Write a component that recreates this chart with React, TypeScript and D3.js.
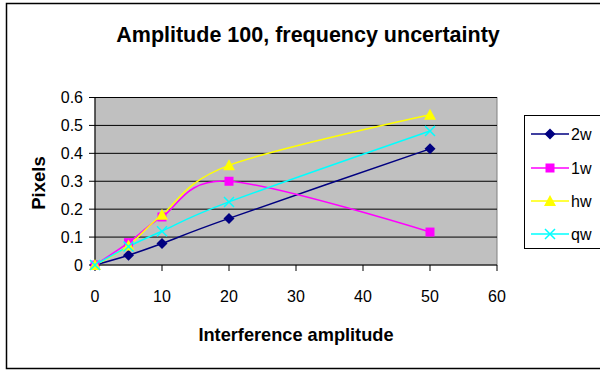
import React from "react";
import * as d3 from "d3";

const xValues = [0, 5, 10, 20, 50];
const series2w = [0, 0.035, 0.077, 0.167, 0.416];
const series1w = [0, 0.08, 0.172, 0.3, 0.118];
const serieshw = [0, 0.07, 0.18, 0.357, 0.538];
const seriesqw = [0, 0.066, 0.121, 0.226, 0.48];
const seriesNames = ["2w", "1w", "hw", "qw"];
const seriesColors = ["#000080", "#FF00FF", "#FFFF00", "#00FFFF"];
const xTicks = [0, 10, 20, 30, 40, 50, 60];
const yTicks = [0, 0.1, 0.2, 0.3, 0.4, 0.5, 0.6];
const title = "Amplitude 100, frequency uncertainty";
const xTitle = "Interference amplitude";
const yTitle = "Pixels";

const W = 600, H = 370;
const font = "'Liberation Sans', Arial, sans-serif";

function Marker({ type, x, y, color }: { type: number; x: number; y: number; color: string }) {
  if (type === 0) {
    const r = 5.5;
    return <path d={`M${x},${y - r}L${x + r},${y}L${x},${y + r}L${x - r},${y}Z`} fill={color} />;
  }
  if (type === 1) {
    return <rect x={x - 4.5} y={y - 4.5} width={9} height={9} fill={color} />;
  }
  if (type === 2) {
    return <path d={`M${x},${y - 6}L${x + 6},${y + 5}L${x - 6},${y + 5}Z`} fill={color} />;
  }
  return (
    <path d={`M${x - 5},${y - 5}L${x + 5},${y + 5}M${x + 5},${y - 5}L${x - 5},${y + 5}`} stroke={color} strokeWidth={1.5} fill="none" />
  );
}

export default function App() {
  const x = d3.scaleLinear().domain([0, 60]).range([95, 497]);
  const y = d3.scaleLinear().domain([0, 0.6]).range([265, 97.5]);
  const all = [series2w, series1w, serieshw, seriesqw];
  const line = d3
    .line<number>()
    .x((_, i) => x(xValues[i]))
    .y((d) => y(d))
    .curve(d3.curveCardinal.tension(0));
  const legendY = [134, 168, 201, 234];
  return (
    <svg width={W} height={H} style={{ position: "absolute", left: 0, top: 0 }} fontFamily={font}>
      <rect x={0} y={0} width={W} height={H} fill="#fff" />
      <rect x={6.5} y={3.5} width={600} height={365} fill="none" stroke="#000" strokeWidth={1.5} />
      <text x={308} y={41.5} textAnchor="middle" fontSize={21.5} fontWeight="bold">{title}</text>
      <rect x={x(0)} y={y(0.6)} width={x(60) - x(0)} height={y(0) - y(0.6)} fill="#C0C0C0" stroke="#808080" strokeWidth={1} />
      {yTicks.slice(1).map((t) => (
        <line key={t} x1={x(0)} x2={x(60)} y1={y(t)} y2={y(t)} stroke="#000" strokeWidth={1} />
      ))}
      <line x1={x(0)} x2={x(0)} y1={y(0.6)} y2={y(0)} stroke="#000" />
      <line x1={x(0)} x2={x(60)} y1={y(0)} y2={y(0)} stroke="#000" />
      {yTicks.map((t) => (
        <g key={t}>
          <line x1={x(0) - 6} x2={x(0)} y1={y(t)} y2={y(t)} stroke="#000" />
          <text x={83} y={y(t) + 5.5} textAnchor="end" fontSize={16}>{String(t)}</text>
        </g>
      ))}
      {xTicks.map((t) => (
        <g key={t}>
          <line x1={x(t)} x2={x(t)} y1={y(0)} y2={y(0) + 6} stroke="#000" />
          <text x={x(t)} y={302} textAnchor="middle" fontSize={16}>{String(t)}</text>
        </g>
      ))}
      <text x={296} y={341} textAnchor="middle" fontSize={18.2} fontWeight="bold">{xTitle}</text>
      <text transform="translate(45,183) rotate(-90)" textAnchor="middle" fontSize={18.5} fontWeight="bold">{yTitle}</text>
      {all.map((s, k) => (
        <path key={k} d={line(s) || ""} fill="none" stroke={seriesColors[k]} strokeWidth={1.5} />
      ))}
      {all.map((s, k) =>
        s.map((v, i) => <Marker key={k + "-" + i} type={k} x={x(xValues[i])} y={y(v)} color={seriesColors[k]} />)
      )}
      <rect x={524.5} y={115.5} width={80} height={133} fill="#fff" stroke="#000" />
      {seriesNames.map((n, k) => (
        <g key={n}>
          <line x1={531} x2={569} y1={legendY[k]} y2={legendY[k]} stroke={seriesColors[k]} strokeWidth={1.5} />
          <Marker type={k} x={550} y={legendY[k]} color={seriesColors[k]} />
          <text x={571} y={legendY[k] + 6} fontSize={16}>{n}</text>
        </g>
      ))}
    </svg>
  );
}
